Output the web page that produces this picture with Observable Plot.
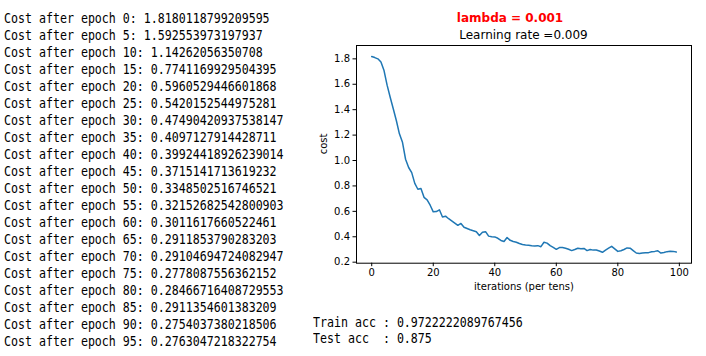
<!DOCTYPE html>
<html>
<head>
<meta charset="utf-8">
<script src="https://cdn.jsdelivr.net/npm/d3@7"></script>
<script src="https://cdn.jsdelivr.net/npm/@observablehq/plot@0.6"></script>
<style>
  html, body { margin: 0; padding: 0; background: #fff; }
  #root { position: relative; width: 706px; height: 356px; overflow: hidden; }
  .mono { position: absolute; font-family: "DejaVu Sans Mono", monospace; font-size: 13.5px; color: #000;
          white-space: pre; transform-origin: 0 0; transform: scaleX(0.86); }
  #log { left: 4px; top: 9.6px; line-height: 17.04px; }
  #acc { left: 312.5px; top: 313.6px; line-height: 16px; }
  .title { position: absolute; font-family: "DejaVu Sans", sans-serif; white-space: nowrap; transform: translateX(-50%); }
  #sup { left: 510px; top: 11px; font-size: 12px; font-weight: bold; color: #ff0000; }
  #sub { left: 523.5px; top: 27.5px; font-size: 12px; color: #000; }
  #chart { position: absolute; left: 300px; top: 40px; }
</style>
</head>
<body>
<div id="root">
  <div id="log" class="mono"></div>
  <div id="sup" class="title"></div>
  <div id="sub" class="title"></div>
  <div id="chart"></div>
  <div id="acc" class="mono"></div>
</div>
<script>
// printed log lines
const logEpochs = [0, 5, 10, 15, 20, 25, 30, 35, 40, 45, 50, 55, 60, 65, 70, 75, 80, 85, 90, 95];
const logCosts = ["1.8180118799209595", "1.592553973197937", "1.14262056350708", "0.7741169929504395",
  "0.5960529446601868", "0.5420152544975281", "0.47490420937538147", "0.4097127914428711",
  "0.39924418926239014", "0.3715141713619232", "0.3348502516746521", "0.32152682542800903",
  "0.3011617660522461", "0.2911853790283203", "0.29104694724082947", "0.2778087556362152",
  "0.28466716408729553", "0.2911354601383209", "0.2754037380218506", "0.2763047218322754"];

// plotted cost per iteration (per tens), index 0..99
const costs = [
  1.818, 1.810, 1.800, 1.775, 1.708, 1.593, 1.498, 1.407, 1.315, 1.210,
  1.143, 1.010, 0.945, 0.905, 0.820, 0.774, 0.780, 0.710, 0.690, 0.648,
  0.596, 0.598, 0.612, 0.555, 0.562, 0.542, 0.525, 0.508, 0.490, 0.505,
  0.475, 0.465, 0.455, 0.448, 0.440, 0.410, 0.435, 0.440, 0.405, 0.400,
  0.399, 0.388, 0.371, 0.363, 0.394, 0.372, 0.363, 0.357, 0.347, 0.339,
  0.335, 0.333, 0.329, 0.328, 0.330, 0.322, 0.357, 0.350, 0.330, 0.316,
  0.301, 0.315, 0.316, 0.310, 0.302, 0.291, 0.300, 0.310, 0.305, 0.308,
  0.291, 0.300, 0.295, 0.296, 0.288, 0.278, 0.295, 0.310, 0.325, 0.305,
  0.285, 0.290, 0.300, 0.312, 0.310, 0.291, 0.272, 0.268, 0.272, 0.275,
  0.275, 0.282, 0.285, 0.290, 0.272, 0.276, 0.283, 0.286, 0.285, 0.280
];

const xTicks = [0, 20, 40, 60, 80, 100];
const yTicks = [0.2, 0.4, 0.6, 0.8, 1.0, 1.2, 1.4, 1.6, 1.8];

const supTitle = "lambda = 0.001";
const subTitle = "Learning rate =0.009";
const xLabel = "iterations (per tens)";
const yLabel = "cost";
const accLines = ["Train acc : 0.9722222089767456", "Test acc  : 0.875"];

document.getElementById("log").textContent =
  logEpochs.map((e, i) => `Cost after epoch ${e}: ${logCosts[i]}`).join("\n");
document.getElementById("acc").textContent = accLines.join("\n");
document.getElementById("sup").textContent = supTitle;
document.getElementById("sub").textContent = subTitle;

const data = costs.map((c, i) => ({iter: i, cost: c}));

const chart = Plot.plot({
  width: 406,
  height: 260,
  marginLeft: 56,
  marginRight: 15,
  marginTop: 5,
  marginBottom: 37.3,
  style: {fontFamily: "DejaVu Sans, sans-serif", fontSize: "10px", color: "#000", background: "transparent"},
  x: {domain: [-4.95, 103.95]},
  y: {domain: [0.192, 1.905]},
  marks: [
    Plot.axisX({ticks: xTicks, tickSize: 3.5, tickPadding: 2.5, tickFormat: d => String(d), label: null, fontSize: 10}),
    Plot.axisY({ticks: yTicks, tickSize: 3.5, tickPadding: 3, tickFormat: d => d.toFixed(1), label: null, fontSize: 10}),
    Plot.frame({stroke: "#000", strokeWidth: 1}),
    Plot.line(data, {x: "iter", y: "cost", stroke: "#1f77b4", strokeWidth: 1.5}),
    Plot.text([xLabel], {frameAnchor: "bottom", dy: 26.6, fontSize: 10, fill: "#000"}),
    Plot.text([yLabel], {frameAnchor: "left", dx: -32.7, rotate: -90, fontSize: 10, fill: "#000"})
  ]
});
document.getElementById("chart").appendChild(chart);
</script>
</body>
</html>
